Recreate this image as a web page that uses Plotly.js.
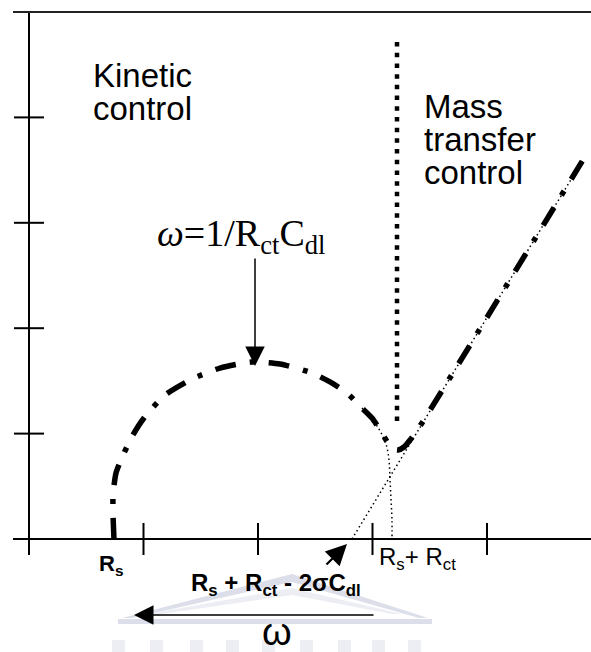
<!DOCTYPE html>
<html>
<head>
<meta charset="utf-8">
<script src="https://cdn.plot.ly/plotly-3.0.1.min.js"></script>
<style>html,body{margin:0;padding:0;background:#fff;}#chart{width:591px;height:652px;}</style>
</head>
<body>
<div id="chart"></div>
<script>
// ---- data (schematic Nyquist plot, axis units) ----
const xTickVals = [1, 2, 3, 4];
const yTickVals = [1, 2, 3, 4];
const yTop = 5;

// thick dash-dot impedance curve: kinetic semicircle then Warburg line
const curveX = [0.742, 0.734, 0.734, 0.760, 0.830, 0.908, 1.004, 1.188, 1.424, 1.668, 1.939, 2.192, 2.472, 2.629, 2.777, 2.908, 2.996, 3.066, 3.135, 3.179, 3.223, 3.275, 3.328, 3.415, 4.838];
const curveY = [0.000, 0.228, 0.417, 0.626, 0.816, 0.987, 1.148, 1.366, 1.518, 1.622, 1.679, 1.660, 1.575, 1.490, 1.385, 1.243, 1.148, 1.034, 0.911, 0.854, 0.844, 0.873, 0.939, 1.072, 3.596];

// thin dotted extrapolation of the semicircle to Rs + Rct
const arcTailX = [2.908, 2.996, 3.066, 3.118, 3.144, 3.153, 3.162, 3.170, 3.170];
const arcTailY = [1.243, 1.139, 1.025, 0.901, 0.750, 0.560, 0.370, 0.180, 0.000];

// thin dotted Warburg extrapolation to Rs + Rct - 2σ²Cdl
const warburgX = [2.821, 4.838];
const warburgY = [0.000, 3.596];

// heavy dotted divider between the two regimes
const dividerX = [3.214, 3.214];
const dividerY = [4.715, 1.063];

// ---- pixel geometry helpers (layout only) ----
const W = 591, H = 652;
const x0px = 29, xUnit = 114.5, y0px = 539, yUnit = 105.4;
const px2x = p => (p - x0px) / xUnit;
const px2y = p => (y0px - p) / yUnit;
const xRange = [px2x(0), px2x(W)];
const yRange = [px2y(H), px2y(0)];

const tickHalfX = 15 / xUnit;   // y-axis ticks half-length in x units
const tickHalfY = 16 / yUnit;   // x-axis ticks half-length in y units

const traces = [];
const axisLine = {color: '#000', width: 2};

// x axis line, y axis line, top frame line
traces.push({x: [px2x(13), xRange[1]], y: [0, 0], mode: 'lines', line: axisLine, hoverinfo: 'skip'});
traces.push({x: [0, 0], y: [yTop, px2y(555)], mode: 'lines', line: axisLine, hoverinfo: 'skip'});
traces.push({x: [px2x(13), xRange[1]], y: [yTop, yTop], mode: 'lines', line: {color: '#222', width: 2}, hoverinfo: 'skip'});

// ticks
const tx = [], ty = [];
xTickVals.forEach(v => { tx.push(v, v, null); ty.push(-tickHalfY, tickHalfY, null); });
const ux = [], uy = [];
yTickVals.forEach(v => { ux.push(-tickHalfX, tickHalfX, null); uy.push(v, v, null); });
traces.push({x: tx, y: ty, mode: 'lines', line: axisLine, connectgaps: false, hoverinfo: 'skip'});
traces.push({x: ux, y: uy, mode: 'lines', line: axisLine, connectgaps: false, hoverinfo: 'skip'});

// thin dotted extrapolations
traces.push({x: arcTailX, y: arcTailY, mode: 'lines', line: {color: '#000', width: 1.5, dash: '1.5px,3px', shape: 'spline'}, hoverinfo: 'skip'});
traces.push({x: warburgX, y: warburgY, mode: 'lines', line: {color: '#000', width: 1.5, dash: '1.5px,3px'}, hoverinfo: 'skip'});

// divider
traces.push({x: dividerX, y: dividerY, mode: 'lines', line: {color: '#000', width: 4.5, dash: '4.5px,6.2px'}, hoverinfo: 'skip'});

// main curve
traces.push({x: curveX, y: curveY, mode: 'lines', line: {color: '#000', width: 5.5, dash: '21px,14px,5px,14px', shape: 'spline', smoothing: 0.6}, hoverinfo: 'skip'});

const sans = 'Liberation Sans, Arial, sans-serif';
const serif = 'Liberation Serif, Times New Roman, serif';

function label(text, xpx, ypx, size, family, xanchor) {
  return {text: text, x: px2x(xpx), y: px2y(ypx), xref: 'x', yref: 'y', showarrow: false,
          xanchor: xanchor || 'left', yanchor: 'middle', font: {family: family, size: size, color: '#000'}};
}
function arrow(headX, headY, tailX, tailY, width, size) {
  return {text: '', x: px2x(headX), y: px2y(headY), xref: 'x', yref: 'y', showarrow: true,
          ax: tailX - headX, ay: tailY - headY, axref: 'pixel', ayref: 'pixel',
          arrowhead: 2, arrowsize: size, arrowwidth: width, arrowcolor: '#000', standoff: 0, startstandoff: 0};
}

const annotations = [
  label('Kinetic', 91, 75, 33, sans),
  label('control', 91, 108, 33, sans),
  label('Mass', 422, 106, 33, sans),
  label('transfer', 422, 139, 33, sans),
  label('control', 422, 172, 33, sans),
  label('<i>ω</i>=1/R<sub>ct</sub>C<sub>dl</sub>', 155, 236, 38, serif),
  label('<b>R<sub>s</sub></b>', 97, 565, 22, sans),
  label('<b>R<sub>s</sub> + R<sub>ct</sub> - 2σC<sub>dl</sub></b>', 189, 584, 24, sans),
  label('R<sub>s</sub>+ R<sub>ct</sub>', 377, 558, 24, sans),
  label('ω', 277, 632, 38, sans, 'center'),
  arrow(255, 366, 255, 257, 1.5, 2.6),
  arrow(347, 544, 325, 566, 2.2, 1.9),
  arrow(134, 615, 375, 615, 1.5, 2.6)
];

// faint watermark (decorative background)
const wm = '#dcdfea', wm2 = '#eceef4';
function pp(x, y) { return [x / W, 1 - y / H]; }
function pathOf(pts) { return 'M' + pts.map(p => { const q = pp(p[0], p[1]); return q[0] + ',' + q[1]; }).join('L') + 'Z'; }
const shapes = [
  {type: 'path', xref: 'paper', yref: 'paper', layer: 'below', fillcolor: wm, line: {width: 0},
   path: pathOf([[122, 618], [292, 574], [428, 618], [419, 618], [292, 582], [132, 618]])},
  {type: 'path', xref: 'paper', yref: 'paper', layer: 'below', fillcolor: wm2, line: {width: 0},
   path: pathOf([[148, 614], [292, 588], [402, 614], [392, 614], [292, 595], [162, 614]])},
  {type: 'path', xref: 'paper', yref: 'paper', layer: 'below', fillcolor: wm, line: {width: 0},
   path: pathOf([[118, 619], [432, 619], [432, 624], [118, 624]])}
];
[112, 150, 190, 226, 262, 300, 338, 372, 408].forEach(c => {
  shapes.push({type: 'path', xref: 'paper', yref: 'paper', layer: 'below', fillcolor: wm2, line: {width: 0},
    path: pathOf([[c, 640], [c + 13, 640], [c + 13, 652], [c, 652]])});
});

const layout = {
  width: W, height: H,
  margin: {l: 0, r: 0, t: 0, b: 0, pad: 0},
  paper_bgcolor: '#fff', plot_bgcolor: 'rgba(0,0,0,0)',
  showlegend: false,
  xaxis: {range: xRange, visible: false, fixedrange: true},
  yaxis: {range: yRange, visible: false, fixedrange: true},
  annotations: annotations,
  shapes: shapes
};

Plotly.newPlot('chart', traces, layout, {staticPlot: true, displayModeBar: false});
</script>
</body>
</html>
